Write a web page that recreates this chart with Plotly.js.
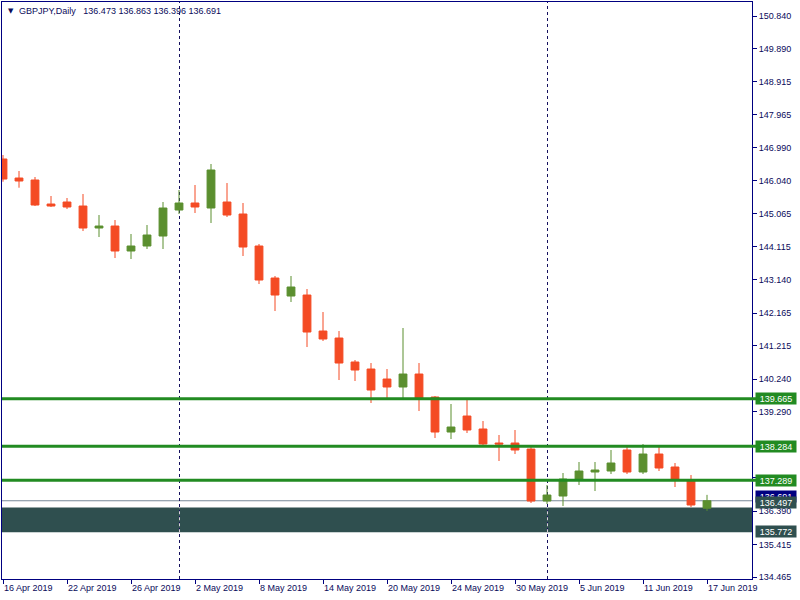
<!DOCTYPE html>
<html><head><meta charset="utf-8">
<script src="https://cdn.plot.ly/plotly-3.0.1.min.js"></script>
<style>html,body{margin:0;padding:0;background:#fff}#chart{width:800px;height:600px}</style>
</head><body><div id="chart"></div>
<script>
const symbol = 'GBPJPY';
const period = 'Daily';
const dates = ['2019-04-16','2019-04-17','2019-04-18','2019-04-19','2019-04-22','2019-04-23','2019-04-24','2019-04-25','2019-04-26','2019-04-29','2019-04-30',
 '2019-05-01','2019-05-02','2019-05-03','2019-05-06','2019-05-07','2019-05-08','2019-05-09','2019-05-10','2019-05-13','2019-05-14','2019-05-15','2019-05-16','2019-05-17','2019-05-20','2019-05-21','2019-05-22','2019-05-23','2019-05-24','2019-05-27','2019-05-28','2019-05-29','2019-05-30','2019-05-31',
 '2019-06-03','2019-06-04','2019-06-05','2019-06-06','2019-06-07','2019-06-10','2019-06-11','2019-06-12','2019-06-13','2019-06-14','2019-06-17'];
const open  = [146.666,146.111,146.053,145.352,145.411,145.294,144.652,144.710,143.981,144.127,144.418,145.177,145.382,145.236,145.411,145.061,144.127,143.192,142.667,142.696,141.645,141.441,140.741,140.536,140.244,140.011,140.390,139.719,138.697,139.164,138.785,138.376,138.376,138.201,136.683,136.829,137.325,137.530,137.559,138.172,137.530,138.055,137.676,137.296,136.473];
const high  = [146.783,146.316,146.141,145.586,145.528,145.644,145.031,144.885,144.477,144.740,145.411,145.761,145.907,146.520,145.965,145.382,144.185,143.251,143.251,142.871,142.200,141.645,140.799,140.711,140.536,141.733,140.711,139.748,139.515,139.661,139.018,138.610,138.756,138.259,137.150,137.501,137.822,137.822,138.172,138.289,138.347,138.289,137.793,137.442,136.863];
const low   = [146.003,145.828,145.294,145.265,145.206,144.564,144.389,143.776,143.747,144.039,144.039,145.061,145.090,144.798,144.973,143.835,143.017,142.229,142.492,141.178,141.354,140.215,140.186,139.544,139.690,139.631,139.310,138.522,138.493,138.668,138.289,137.851,138.055,136.625,136.596,136.537,137.150,136.975,137.471,137.471,137.471,137.559,137.092,136.508,136.396];
const close = [146.082,146.024,145.323,145.294,145.265,144.652,144.710,143.981,144.127,144.448,145.236,145.382,145.265,146.345,145.031,144.097,143.134,142.696,142.930,141.616,141.412,140.711,140.507,139.923,140.011,140.390,139.690,138.697,138.843,138.756,138.347,138.347,138.172,136.683,136.858,137.325,137.559,137.588,137.793,137.530,138.055,137.647,137.296,136.567,136.691];
const xTickDates  = ['2019-04-16','2019-04-22','2019-04-26','2019-05-02','2019-05-08','2019-05-14','2019-05-20','2019-05-24','2019-05-30','2019-06-05','2019-06-11','2019-06-17'];
const xTickLabels = ['16 Apr 2019','22 Apr 2019','26 Apr 2019','2 May 2019','8 May 2019','14 May 2019','20 May 2019','24 May 2019','30 May 2019','5 Jun 2019','11 Jun 2019','17 Jun 2019'];
const yTickValues = [150.840,149.890,148.915,147.965,146.990,146.040,145.065,144.115,143.140,142.165,141.215,140.240,139.290,138.315,137.365,136.390,135.415,134.465];
const yTickHidden = [138.315,137.365];
const levels = [139.665,138.284,137.289];
const zone = [135.772,136.497];

const idx = dates.map((d,i)=>i);
const last = dates.length-1;
const separators = idx.filter(i => i>0 && dates[i].slice(5,7)!==dates[i-1].slice(5,7));
const NAVY = '#000080', TXT = '#0a0a5a', SEP = '#15105e';
const UP = '#5B8F2F', DOWN = '#F44B24', LVL = '#228B22', ZONE = '#2F4F4F';
const PX = 1/32; // half-pixel nudge (16 px per bar) for crisp 1px lines

const trace = {
  type:'candlestick', x: idx, open, high, low, close,
  increasing:{line:{color:UP,width:1}, fillcolor:UP},
  decreasing:{line:{color:DOWN,width:1}, fillcolor:DOWN},
  whiskerwidth:0, hoverinfo:'skip'
};

const shapes = [];
shapes.push({type:'rect', xref:'paper', x0:0, x1:1, yref:'y', y0:zone[0], y1:zone[1], fillcolor:ZONE, line:{width:0}, layer:'below'});
shapes.push({type:'line', xref:'paper', x0:0, x1:1, yref:'y', y0:close[last], y1:close[last], line:{color:'#778899', width:1}, layer:'below'});
separators.forEach(s=>{
  shapes.push({type:'line', xref:'x', x0:s+PX, x1:s+PX, yref:'paper', y0:0, y1:1, line:{color:SEP, width:1, dash:'3px,3px'}, layer:'below'});
  shapes.push({type:'line', xref:'x', x0:s+PX, x1:s+PX, yref:'y', y0:zone[0], y1:zone[1], line:{color:'#d8d0d8', width:1, dash:'3px,3px'}, layer:'below'});
});
levels.forEach(v=>{
  shapes.push({type:'line', xref:'paper', x0:0, x1:1.006, yref:'y', y0:v, y1:v, line:{color:LVL, width:3}, layer:'above'});
});

const annotations = [];
const fontBase = {family:'Liberation Sans, Arial, sans-serif', size:9};
annotations.push({xref:'paper', yref:'paper', x:0, y:1, xanchor:'left', yanchor:'middle', xshift:4, yshift:-9, text:'\u25BC', showarrow:false, font:{family:'DejaVu Sans', size:7, color:TXT}});
annotations.push({xref:'paper', yref:'paper', x:0, y:1, xanchor:'left', yanchor:'middle', xshift:15, yshift:-9,
  text: symbol+','+period+'\u00a0\u00a0\u00a0'+[open[last],high[last],low[last],close[last]].map(v=>v.toFixed(3)).join(' '),
  showarrow:false, font:Object.assign({color:TXT}, fontBase)});
function priceLabel(v, bg, dy){
  annotations.push({xref:'paper', yref:'y', x:1, y:v, xanchor:'left', yanchor:'middle', xshift:3, yshift:dy, text:v.toFixed(3), showarrow:false,
    bgcolor:bg, borderpad:0, width:40, height:11, align:'center', font:Object.assign({color:'#ffffff'}, fontBase)});
}
levels.forEach(v=>priceLabel(v, LVL, 0));
priceLabel(close[last], NAVY, 4);
priceLabel(zone[1], ZONE, 5);
priceLabel(zone[0], ZONE, 1);

const layout = {
  width:800, height:600, margin:{l:2, r:48, t:2, b:21, pad:0},
  paper_bgcolor:'#ffffff', plot_bgcolor:'#ffffff', showlegend:false,
  font:Object.assign({color:TXT}, fontBase),
  xaxis:{range:[-0.0625, 46.8125], showgrid:false, zeroline:false, showline:true, mirror:true, linecolor:NAVY, linewidth:1,
    ticks:'outside', ticklen:4, tickcolor:NAVY, tickvals:xTickDates.map(d=>dates.indexOf(d)), ticktext:xTickLabels,
    ticklabelposition:'outside right', rangeslider:{visible:false}, fixedrange:true, tickfont:fontBase},
  yaxis:{side:'right', range:[134.407, 151.249], showgrid:false, zeroline:false, showline:true, mirror:true, linecolor:NAVY, linewidth:1,
    ticks:'outside', ticklen:4, tickcolor:NAVY, tickvals:yTickValues,
    ticktext:yTickValues.map(v=>yTickHidden.includes(v)?'':v.toFixed(3)), fixedrange:true, tickfont:fontBase},
  shapes, annotations
};
Plotly.newPlot('chart', [trace], layout, {displayModeBar:false, staticPlot:true});
</script></body></html>
